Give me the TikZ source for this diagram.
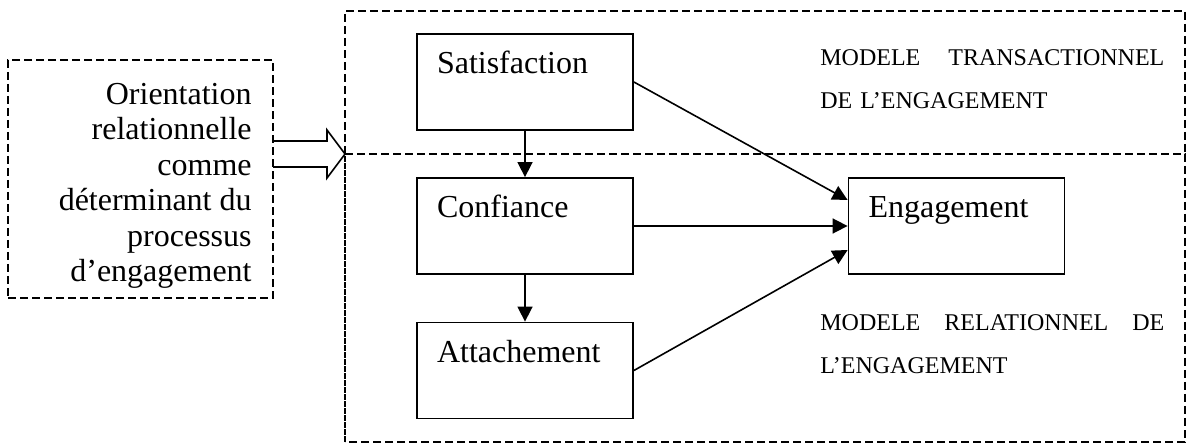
\documentclass[tikz,border=0pt]{standalone}
\usepackage{fontspec}
\setmainfont{Liberation Serif}
\usetikzlibrary{arrows.meta}

\begin{document}
\begin{tikzpicture}[x=0.5pt,y=-0.5pt,>={Triangle[length=7.5pt,width=7.5pt]},line join=miter,
  blockbox/.style={draw,line width=0.9pt,inner xsep=10pt,inner ysep=0pt,text width=88pt,align=left,
    text height=20pt,text depth=28pt,font=\fontsize{16}{19}\selectfont},
  zone/.style={draw,line width=0.6pt,dash pattern=on 4pt off 2pt},
  caption/.style={inner sep=0pt,anchor=north west,text width=172pt,align=left,font=\fontsize{12}{21.5}\selectfont},
  link/.style={->,line width=0.8pt}]
  \useasboundingbox (0,0) rectangle (1188,443);
  % the two model zones
  \coordinate (T1) at (345,11);
  \coordinate (T2) at (1185,11);
  \coordinate (M1) at (345,154);
  \coordinate (M2) at (1185,154);
  \coordinate (B1) at (345,442);
  \coordinate (B2) at (1185,442);
  \draw[zone] (M1)--(T1)--(T2)--(M2);
  \draw[zone] (M1)--(M2)--(B2)--(B1);
  \draw[line width=0.6pt,dash pattern=on 3pt off 0.5pt] (B1)--(M1);
  % determinant
  \node[zone,minimum width=132.5pt,minimum height=119pt,inner sep=0pt] (orient) at (140.5,179) {};
  \node[anchor=north east,inner sep=0pt,align=right,font=\fontsize{16}{17.7}\selectfont] (orienttxt) at (252,83)
    {Orientation\\relationnelle\\comme\\déterminant du\\processus\\d’engagement};
  \draw[line width=0.8pt] (273,141)--(327,141)--(327,130)--(M1)--(327,178)--(327,167)--(273,167);
  % blocks
  \node[blockbox] (sat) at (525,82) {Satisfaction};
  \node[blockbox] (conf) at (525,226) {Confiance};
  \node[blockbox] (att) at (525,370.5) {Attachement};
  \node[blockbox] (eng) at (956.5,226) {Engagement};
  % captions
  \node[caption] (trans) at (820,49) {MODELE\hfill TRANSACTIONNEL\\DE L’ENGAGEMENT};
  \node[caption] (rel) at (820,314) {MODELE\hfill RELATIONNEL\hfill DE\\L’ENGAGEMENT};
  % links
  \draw[link] (sat)--(conf);
  \draw[link] (conf)--(att);
  \draw[link] (sat.east)--([yshift=13pt]eng.west);
  \draw[link] (conf)--(eng);
  \draw[link] (att.east)--([yshift=-12pt]eng.west);
\end{tikzpicture}
\end{document}
